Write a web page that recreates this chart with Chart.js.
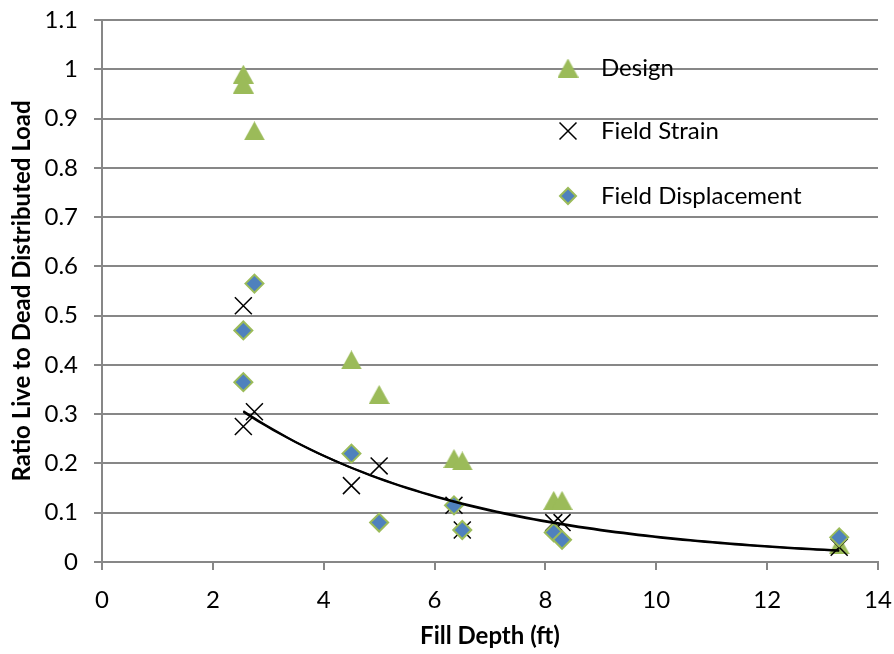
<!DOCTYPE html>
<html>
<head>
<meta charset="utf-8">
<script src="https://cdn.jsdelivr.net/npm/chart.js@4/dist/chart.umd.min.js"></script>
<style>
  body { margin: 0; background: #fff; }
  #wrap { width: 894px; height: 654px; }
</style>
</head>
<body>
<div id="wrap"><canvas id="c"></canvas></div>
<script>
// data
const designX = [2.55, 2.55, 2.75, 4.5, 5.0, 6.35, 6.5, 8.15, 8.3, 13.3];
const designY = [0.99, 0.97, 0.875, 0.41, 0.34, 0.21, 0.205, 0.125, 0.125, 0.035];

const strainX = [2.55, 2.55, 2.75, 4.5, 5.0, 6.35, 6.5, 8.15, 8.3, 13.3];
const strainY = [0.52, 0.275, 0.305, 0.155, 0.195, 0.115, 0.065, 0.08, 0.08, 0.03];

const dispX = [2.75, 2.55, 2.55, 4.5, 5.0, 6.35, 6.5, 8.15, 8.3, 13.3];
const dispY = [0.565, 0.47, 0.365, 0.22, 0.08, 0.115, 0.065, 0.06, 0.045, 0.05];

const xTickLabels = ['0', '2', '4', '6', '8', '10', '12', '14'];
const yTickLabels = ['0', '0.1', '0.2', '0.3', '0.4', '0.5', '0.6', '0.7', '0.8', '0.9', '1', '1.1'];

const legendNames = ['Design', 'Field Strain', 'Field Displacement'];

const GREEN = '#9bbb59';
const BLUE = '#4f81bd';
const GRID = '#878787';
const FONT = 'Lato, "Open Sans", sans-serif';

const pts = (xs, ys) => xs.map((x, i) => ({ x, y: ys[i] }));

// Excel style triangle, centred on its box (chart.js centres on the circumcentre)
function triangleImg(w, h) {
  const cv = document.createElement('canvas');
  cv.width = w; cv.height = h;
  const c = cv.getContext('2d');
  c.fillStyle = GREEN;
  c.beginPath();
  c.moveTo(w / 2, 0);
  c.lineTo(w, h);
  c.lineTo(0, h);
  c.closePath();
  c.fill();
  return cv;
}
const tri = triangleImg(21, 19);

// exponential trendline (least squares on ln y), like Excel does it
function expTrend(xs, ys) {
  const n = xs.length;
  const ly = ys.map(v => Math.log(v));
  const mx = xs.reduce((a, b) => a + b, 0) / n;
  const my = ly.reduce((a, b) => a + b, 0) / n;
  let sxy = 0, sxx = 0;
  xs.forEach((x, i) => { sxy += (x - mx) * (ly[i] - my); sxx += (x - mx) * (x - mx); });
  const b = sxy / sxx;
  const a = Math.exp(my - b * mx);
  const x0 = Math.min(...xs), x1 = Math.max(...xs);
  const out = [];
  for (let k = 0; k <= 80; k++) {
    const x = x0 + (x1 - x0) * k / 80;
    out.push({ x, y: a * Math.exp(b * x) });
  }
  return out;
}

// legend drawn inside the plot, over the grid lines
const legendInPlot = {
  id: 'legendInPlot',
  afterDatasetsDraw(chart) {
    const ctx = chart.ctx;
    const rows = [68, 131, 196];
    ctx.save();
    ctx.drawImage(tri, 568 - 10.5, rows[0] - 9.5);
    ctx.fillStyle = 'transparent';
    ctx.strokeStyle = '#000';
    ctx.lineWidth = 1.5;
    Chart.helpers.drawPoint(ctx, { pointStyle: 'crossRot', radius: 12, borderWidth: 1.5 }, 568, rows[1]);
    ctx.fillStyle = BLUE;
    ctx.strokeStyle = GREEN;
    ctx.lineWidth = 2;
    Chart.helpers.drawPoint(ctx, { pointStyle: 'rectRot', radius: 8, borderWidth: 2 }, 568, rows[2]);
    ctx.fillStyle = '#000';
    ctx.font = '24px ' + FONT;
    ctx.textBaseline = 'middle';
    ctx.textAlign = 'left';
    legendNames.forEach((name, i) => ctx.fillText(name, 601, rows[i]));
    ctx.restore();
  }
};

new Chart(document.getElementById('c'), {
  type: 'scatter',
  data: {
    datasets: [
      {
        label: 'trend strain',
        data: expTrend(strainX, strainY),
        showLine: true, pointRadius: 0, borderColor: '#000', borderWidth: 2,
        tension: 0, order: 1
      },
      {
        label: 'trend displacement',
        data: expTrend(dispX, dispY),
        showLine: true, pointRadius: 0, borderColor: '#000', borderWidth: 2,
        tension: 0, order: 2
      },
      {
        label: legendNames[2],
        data: pts(dispX, dispY),
        pointStyle: 'rectRot', pointRadius: 9,
        backgroundColor: BLUE, borderColor: GREEN, borderWidth: 2, order: 3
      },
      {
        label: legendNames[1],
        data: pts(strainX, strainY),
        pointStyle: 'crossRot', pointRadius: 12,
        borderColor: '#000', borderWidth: 1.5, order: 4
      },
      {
        label: legendNames[0],
        data: pts(designX, designY),
        pointStyle: tri, pointRadius: 11, order: 5
      }
    ]
  },
  options: {
    responsive: true,
    maintainAspectRatio: false,
    animation: false,
    layout: { padding: { left: 0, top: 20, right: 16, bottom: 0 } },
    plugins: { legend: { display: false }, tooltip: { enabled: false } },
    scales: {
      x: {
        type: 'linear', min: 0, max: 14,
        afterFit: s => { s.height = 92; s.paddingLeft = 0; s.paddingRight = 0; },
        afterBuildTicks: s => { s.ticks = xTickLabels.map(Number).map(v => ({ value: v })); },
        ticks: {
          callback: (v, i) => xTickLabels[i],
          color: '#000', font: { family: FONT, size: 24 }, padding: 16, maxRotation: 0
        },
        grid: { drawOnChartArea: false, drawTicks: true, tickLength: 8, tickColor: GRID, lineWidth: 2 },
        border: { display: true, color: GRID, width: 2 },
        title: {
          display: true, text: 'Fill Depth (ft)', color: '#000',
          font: { family: FONT, size: 24, weight: 'bold' }, padding: { top: 0, bottom: 3 }
        }
      },
      y: {
        type: 'linear', min: 0, max: 1.1,
        afterFit: s => { s.width = 102; s.paddingTop = 0; s.paddingBottom = 0; },
        afterBuildTicks: s => { s.ticks = yTickLabels.map(Number).map(v => ({ value: v })); },
        ticks: {
          callback: (v, i) => yTickLabels[i],
          color: '#000', font: { family: FONT, size: 24 }, padding: 16
        },
        grid: { color: GRID, lineWidth: 2, drawTicks: true, tickLength: 8, tickColor: GRID },
        border: { display: true, color: GRID, width: 2 },
        title: {
          display: true, text: 'Ratio Live to Dead Distributed Load', color: '#000',
          font: { family: FONT, size: 24, weight: 'bold' }, padding: { top: 8, bottom: 0 }
        }
      }
    }
  },
  plugins: [legendInPlot]
});
</script>
</body>
</html>
